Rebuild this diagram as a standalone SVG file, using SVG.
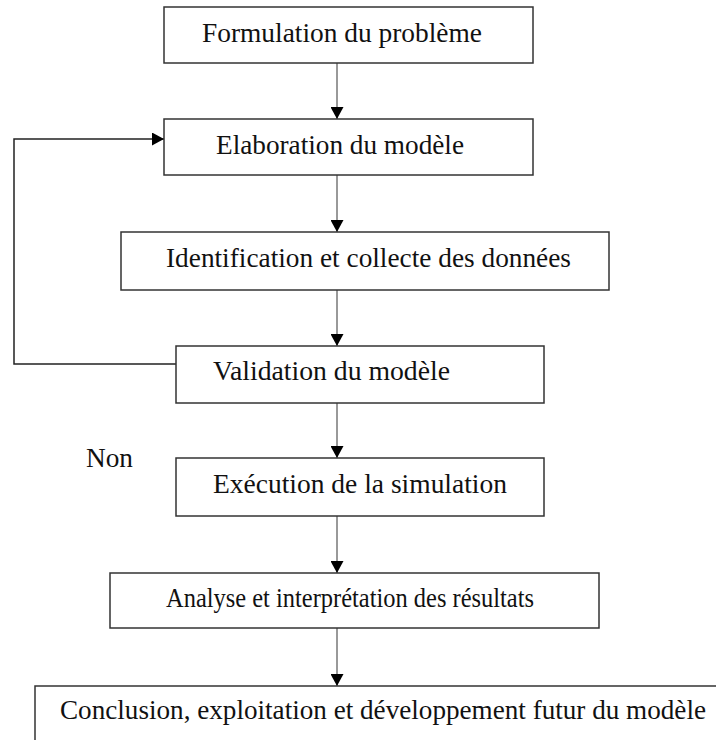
<svg xmlns="http://www.w3.org/2000/svg" width="716" height="740" viewBox="0 0 716 740">
<style>
.box{fill:#fff;stroke:#333;stroke-width:1.5}
.lbl{font-family:"Liberation Serif","Times New Roman",serif;font-size:27px;fill:#111}
.conn{fill:none;stroke:#555;stroke-width:1.2}
.loop{fill:none;stroke:#222;stroke-width:1.5}
</style>
<defs>
<marker id="ah" markerUnits="userSpaceOnUse" markerWidth="12" markerHeight="13" refX="12" refY="6.5" orient="auto">
<path d="M0,0 L12,6.5 L0,13 z" fill="#000"/>
</marker>
</defs>
<rect width="716" height="740" fill="#fff"/>
<g id="connectors">
<line class="conn" x1="337" y1="63" x2="337" y2="119" marker-end="url(#ah)"/>
<line class="conn" x1="337" y1="175" x2="337" y2="232" marker-end="url(#ah)"/>
<line class="conn" x1="337" y1="290" x2="337" y2="346" marker-end="url(#ah)"/>
<line class="conn" x1="337" y1="403" x2="337" y2="458" marker-end="url(#ah)"/>
<line class="conn" x1="337" y1="516" x2="337" y2="573" marker-end="url(#ah)"/>
<line class="conn" x1="337" y1="628" x2="337" y2="686" marker-end="url(#ah)"/>
<polyline class="loop" points="176,364 14,364 14,139 164,139" marker-end="url(#ah)"/>
</g>
<g id="n1"><rect class="box" x="164" y="7" width="369" height="56"/><text class="lbl" x="202" y="42" textLength="280" lengthAdjust="spacingAndGlyphs">Formulation du problème</text></g>
<g id="n2"><rect class="box" x="164" y="119" width="369" height="56"/><text class="lbl" x="216" y="154" textLength="248" lengthAdjust="spacingAndGlyphs">Elaboration du modèle</text></g>
<g id="n3"><rect class="box" x="121" y="232" width="488" height="58"/><text class="lbl" x="166" y="267" textLength="405" lengthAdjust="spacingAndGlyphs">Identification et collecte des données</text></g>
<g id="n4"><rect class="box" x="176" y="346" width="368" height="57"/><text class="lbl" x="213" y="380" textLength="237" lengthAdjust="spacingAndGlyphs">Validation du modèle</text></g>
<g id="non"><text class="lbl" x="86" y="467" textLength="47" lengthAdjust="spacingAndGlyphs">Non</text></g>
<g id="n5"><rect class="box" x="176" y="458" width="368" height="58"/><text class="lbl" x="213" y="493" textLength="294" lengthAdjust="spacingAndGlyphs">Exécution de la simulation</text></g>
<g id="n6"><rect class="box" x="110" y="573" width="489" height="55"/><text class="lbl" x="166" y="607" font-size="24" textLength="368" lengthAdjust="spacingAndGlyphs">Analyse et interprétation des résultats</text></g>
<g id="n7"><rect class="box" x="35" y="686" width="700" height="80"/><text class="lbl" x="60" y="719" textLength="646" lengthAdjust="spacingAndGlyphs">Conclusion, exploitation et développement futur du modèle</text></g>
</svg>
